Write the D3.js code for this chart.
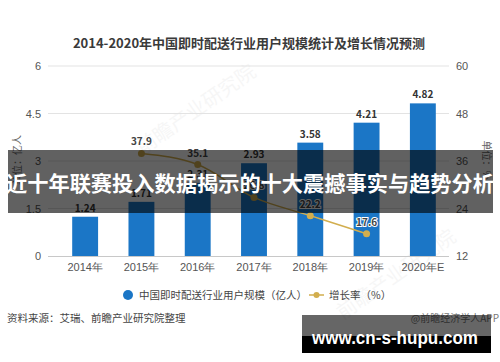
<!DOCTYPE html>
<html>
<head>
<meta charset="utf-8">
<script src="https://cdn.jsdelivr.net/npm/d3@7"></script>
<style>
  body { margin: 0; background: #fff; }
  svg { display: block; font-family: "Noto Sans CJK SC", "Noto Sans", sans-serif; }
</style>
</head>
<body>
<svg id="chart" width="500" height="362"></svg>
<script>
var years = ['2014年', '2015年', '2016年', '2017年', '2018年', '2019年', '2020年E'],
    users = [1.24, 1.71, 2.31, 2.93, 3.58, 4.21, 4.82],
    growthYears = ['2015年', '2016年', '2017年', '2018年', '2019年'],
    growth = [37.9, 35.1, 26.8, 22.2, 17.6],
    leftTicks = [0, 1.5, 3, 4.5, 6],
    rightTicks = [12, 24, 36, 48, 60];

var BAR = '#1b76c6', LINE = '#d2ae4e';

var svg = d3.select('#chart');

var x = d3.scaleBand().domain(years).range([57, 451]).paddingInner(0.54).paddingOuter(0.27),
    yL = d3.scaleLinear().domain([0, 6]).range([256, 66]),
    yR = d3.scaleLinear().domain([12, 60]).range([256, 66]);

// faint watermarks
[[200, 115], [400, 280]].forEach(function(p) {
  svg.append('text')
    .attr('transform', 'translate(' + p[0] + ',' + p[1] + ') rotate(-35)')
    .attr('text-anchor', 'middle')
    .attr('font-size', 20)
    .attr('fill', '#000')
    .attr('opacity', 0.03)
    .text('前瞻产业研究院');
});

svg.append('text')
  .attr('x', 249).attr('y', 48)
  .attr('text-anchor', 'middle')
  .attr('font-size', 13).attr('font-weight', 'bold')
  .attr('fill', '#3a3a3a')
  .text('2014-2020年中国即时配送行业用户规模统计及增长情况预测');

// grid
svg.append('g').selectAll('line')
  .data(leftTicks.slice(1))
  .enter().append('line')
    .attr('x1', 48).attr('x2', 449)
    .attr('y1', function(d) { return yL(d); })
    .attr('y2', function(d) { return yL(d); })
    .attr('stroke', '#e3e3e3');

var axisL = svg.append('g').attr('transform', 'translate(48,0)')
  .call(d3.axisLeft(yL).tickValues(leftTicks).tickFormat(d3.format('~g')).tickSize(0).tickPadding(7));
var axisR = svg.append('g').attr('transform', 'translate(449,0)')
  .call(d3.axisRight(yR).tickValues(rightTicks).tickFormat(d3.format('~g')).tickSize(0).tickPadding(7));
[axisL, axisR].forEach(function(a) {
  a.select('.domain').remove();
  a.selectAll('text').attr('font-size', 11).attr('fill', '#555').attr('font-family', null);
});

svg.append('text')
  .attr('transform', 'translate(21,160) rotate(-90)')
  .attr('text-anchor', 'middle').attr('font-size', 10).attr('fill', '#666')
  .text('单位：亿人');
svg.append('text')
  .attr('transform', 'translate(483,160) rotate(90)')
  .attr('text-anchor', 'middle').attr('font-size', 10).attr('fill', '#666')
  .text('单位：%');

// bars
svg.append('g').selectAll('rect')
  .data(users)
  .enter().append('rect')
    .attr('x', function(d, i) { return x(years[i]); })
    .attr('y', function(d) { return yL(d); })
    .attr('width', x.bandwidth())
    .attr('height', function(d) { return yL(0) - yL(d); })
    .attr('fill', BAR);

svg.append('g').selectAll('text')
  .data(users)
  .enter().append('text')
    .attr('x', function(d, i) { return x(years[i]) + x.bandwidth() / 2; })
    .attr('y', function(d) { return yL(d) - 5; })
    .attr('text-anchor', 'middle')
    .attr('font-size', 10).attr('font-weight', 'bold').attr('fill', '#333')
    .text(function(d) { return d.toFixed(2); });

// x axis
var axisB = svg.append('g').attr('transform', 'translate(0,256)')
  .call(d3.axisBottom(x).tickSize(0).tickPadding(7));
axisB.select('.domain').attr('stroke', '#c8c8c8').attr('d', 'M48,0.5H449');
axisB.selectAll('text').attr('font-size', 11).attr('fill', '#555').attr('font-family', null);

// growth line
var cx = function(d, i) { return x(growthYears[i]) + x.bandwidth() / 2; };
svg.append('path')
  .datum(growth)
  .attr('fill', 'none').attr('stroke', LINE).attr('stroke-width', 1.5)
  .attr('d', d3.line().x(cx).y(function(d) { return yR(d); }).curve(d3.curveMonotoneX));

svg.append('g').selectAll('circle')
  .data(growth)
  .enter().append('circle')
    .attr('cx', cx).attr('cy', function(d) { return yR(d); })
    .attr('r', 3.5).attr('fill', LINE);

svg.append('g').selectAll('text')
  .data(growth)
  .enter().append('text')
    .attr('x', cx).attr('y', function(d) { return yR(d) - 8; })
    .attr('text-anchor', 'middle')
    .attr('font-size', 10).attr('font-weight', 'bold').attr('fill', '#444')
    .attr('stroke', '#fff').attr('stroke-width', 2).attr('paint-order', 'stroke')
    .text(function(d) { return d.toFixed(1); });

// legend
var lg = svg.append('g');
lg.append('circle').attr('cx', 128).attr('cy', 295).attr('r', 5).attr('fill', BAR);
lg.append('text').attr('x', 139).attr('y', 299).attr('font-size', 10.5).attr('fill', '#444')
  .text('中国即时配送行业用户规模（亿人）');
lg.append('line').attr('x1', 309).attr('x2', 324).attr('y1', 295).attr('y2', 295)
  .attr('stroke', LINE).attr('stroke-width', 1.5);
lg.append('circle').attr('cx', 316.5).attr('cy', 295).attr('r', 3).attr('fill', LINE);
lg.append('text').attr('x', 329).attr('y', 299).attr('font-size', 10.5).attr('fill', '#444')
  .text('增长率（%）');

// footer
svg.append('text').attr('x', 7).attr('y', 322).attr('font-size', 10.5).attr('fill', '#444')
  .text('资料来源：艾瑞、前瞻产业研究院整理');
svg.append('text').attr('x', 499).attr('y', 322).attr('text-anchor', 'end')
  .attr('font-size', 10).attr('fill', '#777')
  .text('@前瞻经济学人APP');

// overlay banner
svg.append('rect').attr('x', 8).attr('y', 150).attr('width', 485).attr('height', 63)
  .attr('fill', '#000').attr('opacity', 0.62);
svg.append('text').attr('x', 250).attr('y', 191)
  .attr('text-anchor', 'middle')
  .attr('font-size', 21).attr('font-weight', 'bold').attr('fill', '#fff')
  .attr('textLength', 488).attr('lengthAdjust', 'spacingAndGlyphs')
  .text('近十年联赛投入数据揭示的十大震撼事实与趋势分析');

// site box
svg.append('rect').attr('x', 302).attr('y', 315).attr('width', 189).attr('height', 21)
  .attr('fill', '#000').attr('opacity', 0.6);
svg.append('rect').attr('x', 302).attr('y', 336).attr('width', 189).attr('height', 17)
  .attr('fill', '#000');
svg.append('text').attr('x', 312).attr('y', 344)
  .attr('font-family', '"Liberation Sans", Arial, sans-serif')
  .attr('font-size', 19).attr('font-weight', 'bold').attr('fill', '#fff')
  .attr('textLength', 166).attr('lengthAdjust', 'spacingAndGlyphs')
  .text('www.cn-s-hupu.com');
</script>
</body>
</html>
